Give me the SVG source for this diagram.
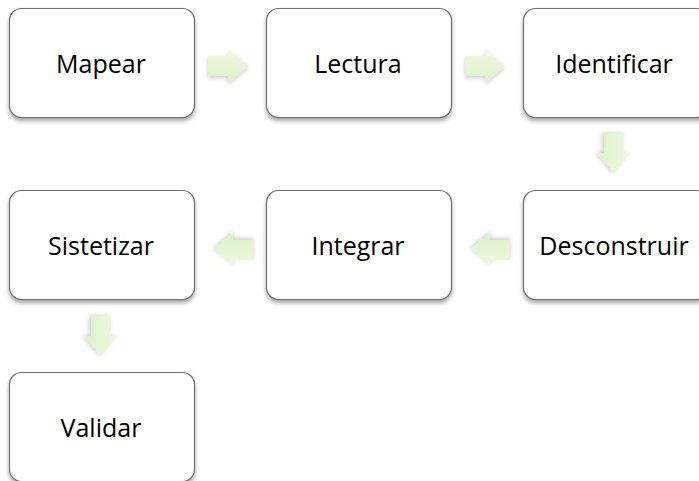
<svg xmlns="http://www.w3.org/2000/svg" width="699" height="481" viewBox="0 0 699 481">
<style>
.box{fill:#fff;stroke:#6e6e6e;stroke-width:1.2;filter:url(#sh)}
.lbl{font-family:"Open Sans","Liberation Sans",sans-serif;font-size:25px;fill:#000;text-anchor:middle;dominant-baseline:central}
.arr{fill:url(#g);filter:url(#ash)}
</style>
<defs>
<filter id="sh" x="-10%" y="-10%" width="120%" height="130%">
<feDropShadow dx="0" dy="3" stdDeviation="2" flood-color="#000" flood-opacity="0.35"/>
</filter>
<filter id="ash" x="-30%" y="-30%" width="160%" height="160%">
<feDropShadow dx="0" dy="2" stdDeviation="2" flood-color="#000" flood-opacity="0.2"/>
</filter>
<linearGradient id="g" x1="0" y1="0" x2="0" y2="1">
<stop offset="0" stop-color="#eff9e4"/>
<stop offset="1" stop-color="#dcf0c6"/>
</linearGradient>
<path id="ar" d="M0,-10 H20 V-17 L40,0 L20,17 V10 H0 Z"/>
</defs>
<g id="connectors">
<use href="#ar" class="arr" transform="translate(208,66)"/>
<use href="#ar" class="arr" transform="translate(465,66)"/>
<use href="#ar" class="arr" transform="translate(614,133) rotate(90)"/>
<use href="#ar" class="arr" transform="translate(510,250) rotate(180)"/>
<use href="#ar" class="arr" transform="translate(253,250) rotate(180)"/>
<use href="#ar" class="arr" transform="translate(101,316) rotate(90)"/>
</g>
<g id="mapear"><rect class="box" x="9.5" y="8.5" width="185" height="109" rx="12"/><text class="lbl" x="101" y="63">Mapear</text></g>
<g id="lectura"><rect class="box" x="266.5" y="8.5" width="185" height="109" rx="12"/><text class="lbl" x="358" y="63">Lectura</text></g>
<g id="identificar"><rect class="box" x="523.5" y="8.5" width="185" height="109" rx="12"/><text class="lbl" x="614" y="63">Identificar</text></g>
<g id="desconstruir"><rect class="box" x="523.5" y="190.5" width="185" height="109" rx="12"/><text class="lbl" x="614" y="245">Desconstruir</text></g>
<g id="integrar"><rect class="box" x="266.5" y="190.5" width="185" height="109" rx="12"/><text class="lbl" x="358" y="245">Integrar</text></g>
<g id="sistetizar"><rect class="box" x="9.5" y="190.5" width="185" height="109" rx="12"/><text class="lbl" x="101" y="245">Sistetizar</text></g>
<g id="validar"><rect class="box" x="9.5" y="372.5" width="185" height="109" rx="12"/><text class="lbl" x="101" y="427">Validar</text></g>
</svg>
